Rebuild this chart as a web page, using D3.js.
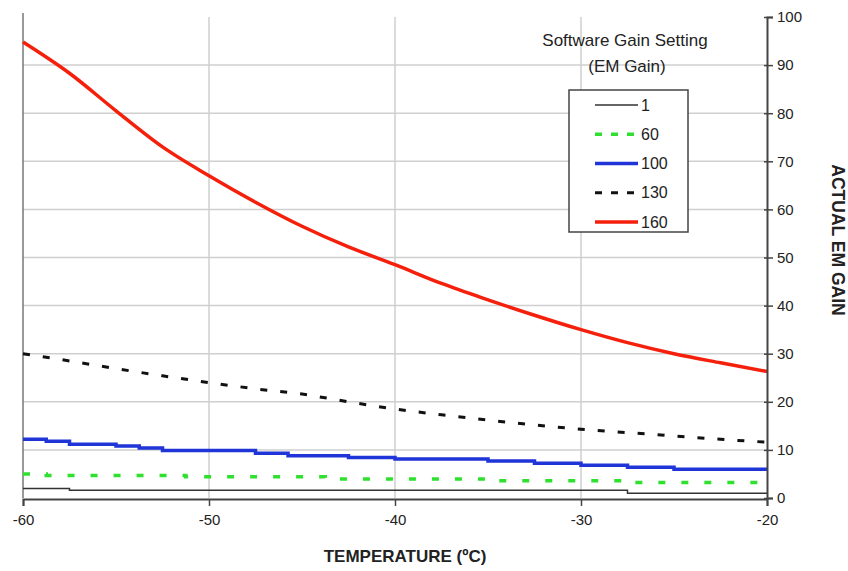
<!DOCTYPE html>
<html>
<head>
<meta charset="utf-8">
<script src="https://cdn.jsdelivr.net/npm/d3@7"></script>
<style>
  body { margin: 0; background: #fff; }
  svg text { font-family: "Liberation Sans Narrow", "Liberation Sans", Arial, sans-serif; fill: #222; }
</style>
</head>
<body>
<svg width="848" height="571"></svg>
<script>
// temperatures (deg C) for the smooth curves
const temps = [-60, -57.5, -55, -52.5, -50, -47.5, -45, -42.5, -40, -37.5, -35, -32.5, -30, -27.5, -25, -22.5, -20];
const gain160 = [94.8, 88.3, 80.5, 73.0, 67.0, 61.5, 56.5, 52.2, 48.5, 44.6, 41.2, 38.0, 35.0, 32.3, 30.0, 28.1, 26.3];
const gain130 = [30.0, 28.5, 26.9, 25.4, 24.0, 22.7, 21.6, 20.0, 18.5, 17.3, 16.2, 15.2, 14.3, 13.6, 12.9, 12.2, 11.6];

// step series (value holds from each temp to the next)
const temps100 = [-60, -58.75, -57.5, -55, -53.75, -52.5, -47.5, -45.75, -42.5, -40, -35, -32.5, -30, -27.5, -25, -20];
const gain100 = [12.2, 11.8, 11.2, 10.8, 10.4, 9.9, 9.3, 8.8, 8.4, 8.1, 7.7, 7.2, 6.8, 6.4, 6.0, 6.0];
const temps60 = [-60, -58.75, -51.25, -43.75, -35, -27.5, -20];
const gain60 = [5.0, 4.7, 4.4, 3.95, 3.6, 3.2, 3.2];
const temps1 = [-60, -57.5, -27.5, -20];
const gain1 = [2.0, 1.6, 1.0, 1.0];

const xTicks = [-60, -50, -40, -30, -20];
const yTicks = [0, 10, 20, 30, 40, 50, 60, 70, 80, 90, 100];
const legendLabels = ["1", "60", "100", "130", "160"];

const svg = d3.select("svg");

const x = d3.scaleLinear().domain([-60, -20]).range([23, 767]);
const y = d3.scaleLinear().domain([0, 100]).range([498, 17]);

// grid
svg.append("g").selectAll("line.h")
  .data(yTicks.filter(d => d > 0 && d < 100))
  .enter().append("line")
  .attr("x1", x(-60)).attr("x2", x(-20))
  .attr("y1", d => y(d)).attr("y2", d => y(d))
  .style("stroke", "#cfcfcf").style("stroke-width", 1.5);

svg.append("g").selectAll("line.v")
  .data(xTicks.filter(d => d > -60 && d < -20))
  .enter().append("line")
  .attr("x1", d => x(d)).attr("x2", d => x(d))
  .attr("y1", y(100)).attr("y2", y(0))
  .style("stroke", "#cfcfcf").style("stroke-width", 1.5);

// left border
svg.append("line")
  .attr("x1", x(-60)).attr("x2", x(-60))
  .attr("y1", y(100) - 4).attr("y2", y(0))
  .style("stroke", "#777").style("stroke-width", 1.5);

// series
const mk = (xs, ys) => xs.map((t, i) => [t, ys[i]]);
const smooth = d3.line().x(d => x(d[0])).y(d => y(d[1])).curve(d3.curveMonotoneX);
const step = d3.line().x(d => x(d[0])).y(d => y(d[1])).curve(d3.curveStepAfter);

svg.append("path").datum(mk(temps1, gain1))
  .attr("d", step).attr("fill", "none")
  .style("stroke", "#333").style("stroke-width", 1.5);

svg.append("path").datum(mk(temps60, gain60))
  .attr("d", step).attr("fill", "none")
  .style("stroke", "#2fe02f").style("stroke-width", 3.5)
  .style("stroke-dasharray", "7,16");

svg.append("path").datum(mk(temps100, gain100))
  .attr("d", step).attr("fill", "none")
  .style("stroke", "#1f35d8").style("stroke-width", 3.5);

svg.append("path").datum(mk(temps, gain130))
  .attr("d", smooth).attr("fill", "none")
  .style("stroke", "#111").style("stroke-width", 3)
  .style("stroke-dasharray", "7,13");

svg.append("path").datum(mk(temps, gain160))
  .attr("d", smooth).attr("fill", "none")
  .style("stroke", "#f5200c").style("stroke-width", 3.5);

// axes
const xAxis = svg.append("g")
  .attr("class", "x-axis")
  .attr("transform", `translate(0,${y(0) + 1})`)
  .call(d3.axisBottom(x).tickValues(xTicks).tickSize(7).tickPadding(8).tickFormat(d => String(d)));

const yAxis = svg.append("g")
  .attr("class", "y-axis")
  .attr("transform", `translate(${x(-20)},0)`)
  .call(d3.axisRight(y).tickValues(yTicks).tickSize(6).tickPadding(4).tickFormat(d => String(d)));

svg.selectAll(".x-axis path, .y-axis path")
  .style("stroke", "#444").style("stroke-width", 2);
svg.selectAll(".x-axis line, .y-axis line")
  .style("stroke", "#444").style("stroke-width", 1.5);
yAxis.selectAll(".tick line").attr("x1", -3);
svg.selectAll(".x-axis text, .y-axis text")
  .style("font-size", "15px").style("fill", "#222")
  .style("font-family", "'Liberation Sans Narrow', 'Liberation Sans', Arial, sans-serif");

// axis titles
svg.append("text")
  .attr("x", 405).attr("y", 562)
  .attr("text-anchor", "middle")
  .style("font-size", "17px").style("font-weight", "bold")
  .text("TEMPERATURE (ºC)");

svg.append("text")
  .attr("transform", "translate(832,240) rotate(90)")
  .attr("text-anchor", "middle")
  .style("font-size", "17.5px").style("font-weight", "bold")
  .text("ACTUAL EM GAIN");

// legend
svg.append("text")
  .attr("x", 625).attr("y", 46)
  .attr("text-anchor", "middle")
  .style("font-size", "17px")
  .text("Software Gain Setting");
svg.append("text")
  .attr("x", 627).attr("y", 72)
  .attr("text-anchor", "middle")
  .style("font-size", "17px")
  .text("(EM Gain)");

svg.append("rect")
  .attr("x", 569).attr("y", 90).attr("width", 119).attr("height", 142)
  .attr("fill", "#fff")
  .style("stroke", "#444").style("stroke-width", 1.5);

const legendStyles = [
  { color: "#333", width: 1.5, dash: null },
  { color: "#2fe02f", width: 3.5, dash: "7,9" },
  { color: "#1f35d8", width: 3.5, dash: null },
  { color: "#111", width: 3, dash: "7,9" },
  { color: "#f5200c", width: 3.5, dash: null }
];
const ly = d3.scalePoint().domain(legendLabels).range([105, 222]);

const items = svg.append("g").selectAll("g")
  .data(legendLabels)
  .enter().append("g")
  .attr("transform", d => `translate(0,${ly(d)})`);

items.append("line")
  .attr("x1", 595).attr("x2", 638)
  .style("stroke", (d, i) => legendStyles[i].color)
  .style("stroke-width", (d, i) => legendStyles[i].width)
  .style("stroke-dasharray", (d, i) => legendStyles[i].dash);

items.append("text")
  .attr("x", 641).attr("dy", "0.35em")
  .style("font-size", "16px")
  .text(d => d);
</script>
</body>
</html>
